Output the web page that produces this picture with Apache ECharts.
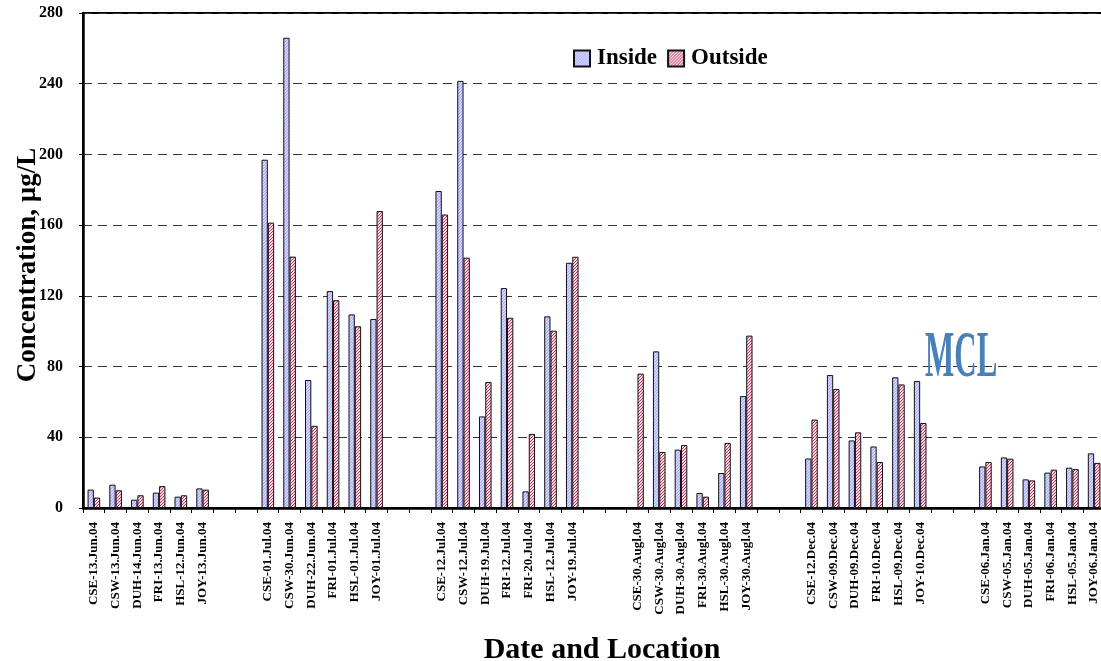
<!DOCTYPE html>
<html><head><meta charset="utf-8">
<script src="https://cdn.jsdelivr.net/npm/echarts@6/dist/echarts.min.js"></script>
<style>html,body{margin:0;padding:0;background:#fff}#c{width:1101px;height:661px}</style>
</head><body><div id="c"></div>
<script>
// Categories ('' = spacer between sampling campaigns)
var categories = [
  'CSE-13.Jun.04','CSW-13.Jun.04','DUH-14.Jun.04','FRI-13.Jun.04','HSL-12.Jun.04','JOY-13.Jun.04','','',
  'CSE-01.Jul.04','CSW-30.Jun.04','DUH-22.Jun.04','FRI-01.Jul.04','HSL-01.Jul.04','JOY-01.Jul.04','','',
  'CSE-12.Jul.04','CSW-12.Jul.04','DUH-19.Jul.04','FRI-12.Jul.04','FRI-20.Jul.04','HSL-12.Jul.04','JOY-19.Jul.04','','',
  'CSE-30.Augl.04','CSW-30.Augl.04','DUH-30.Augl.04','FRI-30.Augl.04','HSL-30.Augl.04','JOY-30.Augl.04','','',
  'CSE-12.Dec.04','CSW-09.Dec.04','DUH-09.Dec.04','FRI-10.Dec.04','HSL-09.Dec.04','JOY-10.Dec.04','','',
  'CSE-06.Jan.04','CSW-05.Jan.04','DUH-05.Jan.04','FRI-06.Jan.04','HSL-05.Jan.04','JOY-06.Jan.04'
];
var inside = [
  10.4,13.2,4.7,8.7,6.4,11.1,null,null,
  197,266,72.4,122.7,109.5,106.9,null,null,
  179.3,241.6,51.8,124.4,9.4,108.4,138.7,null,null,
  null,88.6,33,8.5,19.8,63.3,null,null,
  28,75.2,38.2,34.8,73.9,71.8,null,null,
  23.5,28.6,16.2,20,22.8,30.9
];
var outside = [
  5.9,10.0,7.2,12.4,7.2,10.4,null,null,
  161.4,142.2,46.5,117.5,102.8,168,null,null,
  166,141.6,71.3,107.6,41.9,100.3,142.1,null,null,
  76,31.7,35.6,6.4,36.8,97.5,null,null,
  50,67.3,42.8,26,69.9,48.1,null,null,
  26,27.9,15.6,21.7,22,25.5
];
var yTicks = [0,40,80,120,160,200,240,280];
var xTitle = 'Date and Location';
var yTitle = 'Concentration, µg/L';

function makePattern(bg, fg, step) {
  var c = document.createElement('canvas');
  c.width = step; c.height = step;
  var g = c.getContext('2d');
  g.fillStyle = bg; g.fillRect(0,0,step,step);
  g.fillStyle = fg;
  for (var i = 0; i < step; i++) { g.fillRect(i, step-1-i, 1, 1); }
  return c;
}
var pIn = makePattern('#d2d2ff', '#a9a9f2', 3);
var pOut = makePattern('#f6dbe4', '#c23a62', 3);

var FONT = '"Liberation Serif","Times New Roman",serif';
var chart = echarts.init(document.getElementById('c'));
chart.setOption({
  animation: false,
  backgroundColor: '#fff',
  grid: {left: 83, right: -4, top: 13, bottom: 153, show: true, borderColor: '#000', borderWidth: 2,
         outerBoundsMode: 'none', containLabel: false},
  legend: {
    left: 568, top: 42, itemWidth: 16, itemHeight: 16, itemGap: 10,
    textStyle: {fontFamily: FONT, fontWeight: 'bold', fontSize: 23, color: '#000', padding: [0,0,0,2]},
    data: [{name: 'Inside', icon: 'rect'}, {name: 'Outside', icon: 'rect'}]
  },
  xAxis: {
    type: 'category', data: categories, boundaryGap: true,
    axisLine: {lineStyle: {color: '#000', width: 2.5}},
    axisTick: {show: true, alignWithLabel: false, interval: 0, length: 5, lineStyle: {color: '#000'}},
    axisLabel: {interval: 0, rotate: 90, margin: 14, fontFamily: FONT, fontWeight: 'bold', fontSize: 13, color: '#000'},
    splitLine: {show: false}
  },
  yAxis: {
    type: 'value', min: yTicks[0], max: yTicks[yTicks.length-1], interval: 40,
    axisLine: {show: true, lineStyle: {color: '#000', width: 2.5}},
    axisTick: {show: true, length: 4, lineStyle: {color: '#000'}},
    axisLabel: {margin: 20, fontFamily: FONT, fontWeight: 'bold', fontSize: 16, color: '#000'},
    splitLine: {show: true, lineStyle: {color: '#333', width: 1, type: [9, 6]}}
  },
  series: [
    {name: 'Inside', type: 'bar', data: inside, barGap: '0%', barCategoryGap: '42%',
     itemStyle: {color: {image: pIn, repeat: 'repeat'}, borderColor: '#111', borderWidth: 1}},
    {name: 'Outside', type: 'bar', data: outside, barGap: '0%', barCategoryGap: '42%',
     itemStyle: {color: {image: pOut, repeat: 'repeat'}, borderColor: '#111', borderWidth: 1}}
  ],
  graphic: [
    {type: 'text', x: 602, y: 650, z: 5,
     style: {text: xTitle, font: 'bold 30px ' + FONT, fill: '#000', align: 'center', verticalAlign: 'middle'}},
    {type: 'text', x: 28, y: 265, rotation: Math.PI / 2, z: 5,
     style: {text: yTitle, font: 'bold 27px ' + FONT, fill: '#000', align: 'center', verticalAlign: 'middle'}},
    {type: 'text', left: 925, top: 326, z: 5, scaleX: 0.47,
     style: {text: 'MCL', font: 'bold 66px "Liberation Serif", serif', fill: '#4a80b8',
             shadowColor: 'rgba(110,110,110,0.85)', shadowOffsetX: 4, shadowOffsetY: 3, shadowBlur: 1}}
  ]
});
</script></body></html>
